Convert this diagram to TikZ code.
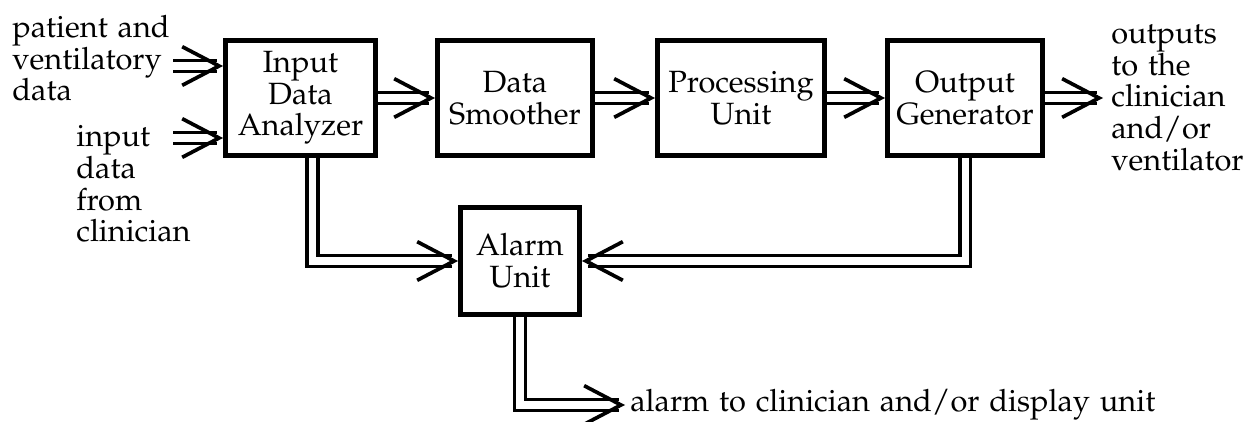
\documentclass[tikz,border=0pt]{standalone}
\usepackage[T1]{fontenc}
\usepackage{mathpazo}
\usetikzlibrary{arrows.meta}
\newcommand\lblfont{\fontsize{17.5}{18}\selectfont\spaceskip 0.32em\relax}
\tikzset{
  block/.style={draw,line width=2.8pt,minimum height=2.3cm,align=center,inner sep=0pt,
    font=\fontsize{17.5}{18}\selectfont},
  lbl/.style={align=left,inner sep=0pt,font=\lblfont},
  dbl/.style={double,double distance=4pt,line width=2.1pt,
    -{Straight Barb[length=21pt,width=22pt,line width=2.1pt 0 0]}}
}
\begin{document}
\begin{tikzpicture}[x=0.02cm,y=-0.02cm,font=\fontsize{17}{18}\selectfont]
        \useasboundingbox (0,0) rectangle (1253,422);

        \node[block,minimum width=3.0cm] (ida) at (300.5,98) {Input\\Data\\Analyzer};
        \node[block,minimum width=3.1cm] (smooth) at (515,98) {Data\\Smoother};
        \node[block,minimum width=3.34cm] (proc) at (741,98) {Processing\\Unit};
        \node[block,minimum width=3.1cm] (outg) at (965,98) {Output\\Generator};
        \node[block,minimum width=2.38cm,minimum height=2.14cm] (alarm) at (520,261) {Alarm\\Unit};

        \node[lbl,anchor=west] (patient) at (12,58) {patient and\\ventilatory\\data};
        \node[lbl,anchor=west] (clin) at (76,184) {input\\data\\from\\clinician};
        \node[lbl,anchor=west] (outtxt) at (1111,98) {outputs\\to the\\clinician\\and/or\\ventilator};
        \node[lbl,anchor=west] (alarmtxt) at (630,405) {alarm to clinician and/or display unit};

        \coordinate (pin1) at (173,66);
        \coordinate (pin2) at (173,138);
        \coordinate (pout) at (1103,98);

        \draw[dbl] (pin1) -- (pin1 -| ida.west);
        \draw[dbl] (pin2) -- (pin2 -| ida.west);
        \draw[dbl] (ida) -- (smooth);
        \draw[dbl] (smooth) -- (proc);
        \draw[dbl] (proc) -- (outg);
        \draw[dbl] (outg) -- (pout);
        \draw[dbl] ([xshift=0.24cm]ida.south) |- (alarm.west);
        \draw[dbl] (outg.south) |- (alarm.east);
        \draw[dbl] (alarm.south) |- ([xshift=-0.1cm]alarmtxt.west);
      \end{tikzpicture}
\end{document}
